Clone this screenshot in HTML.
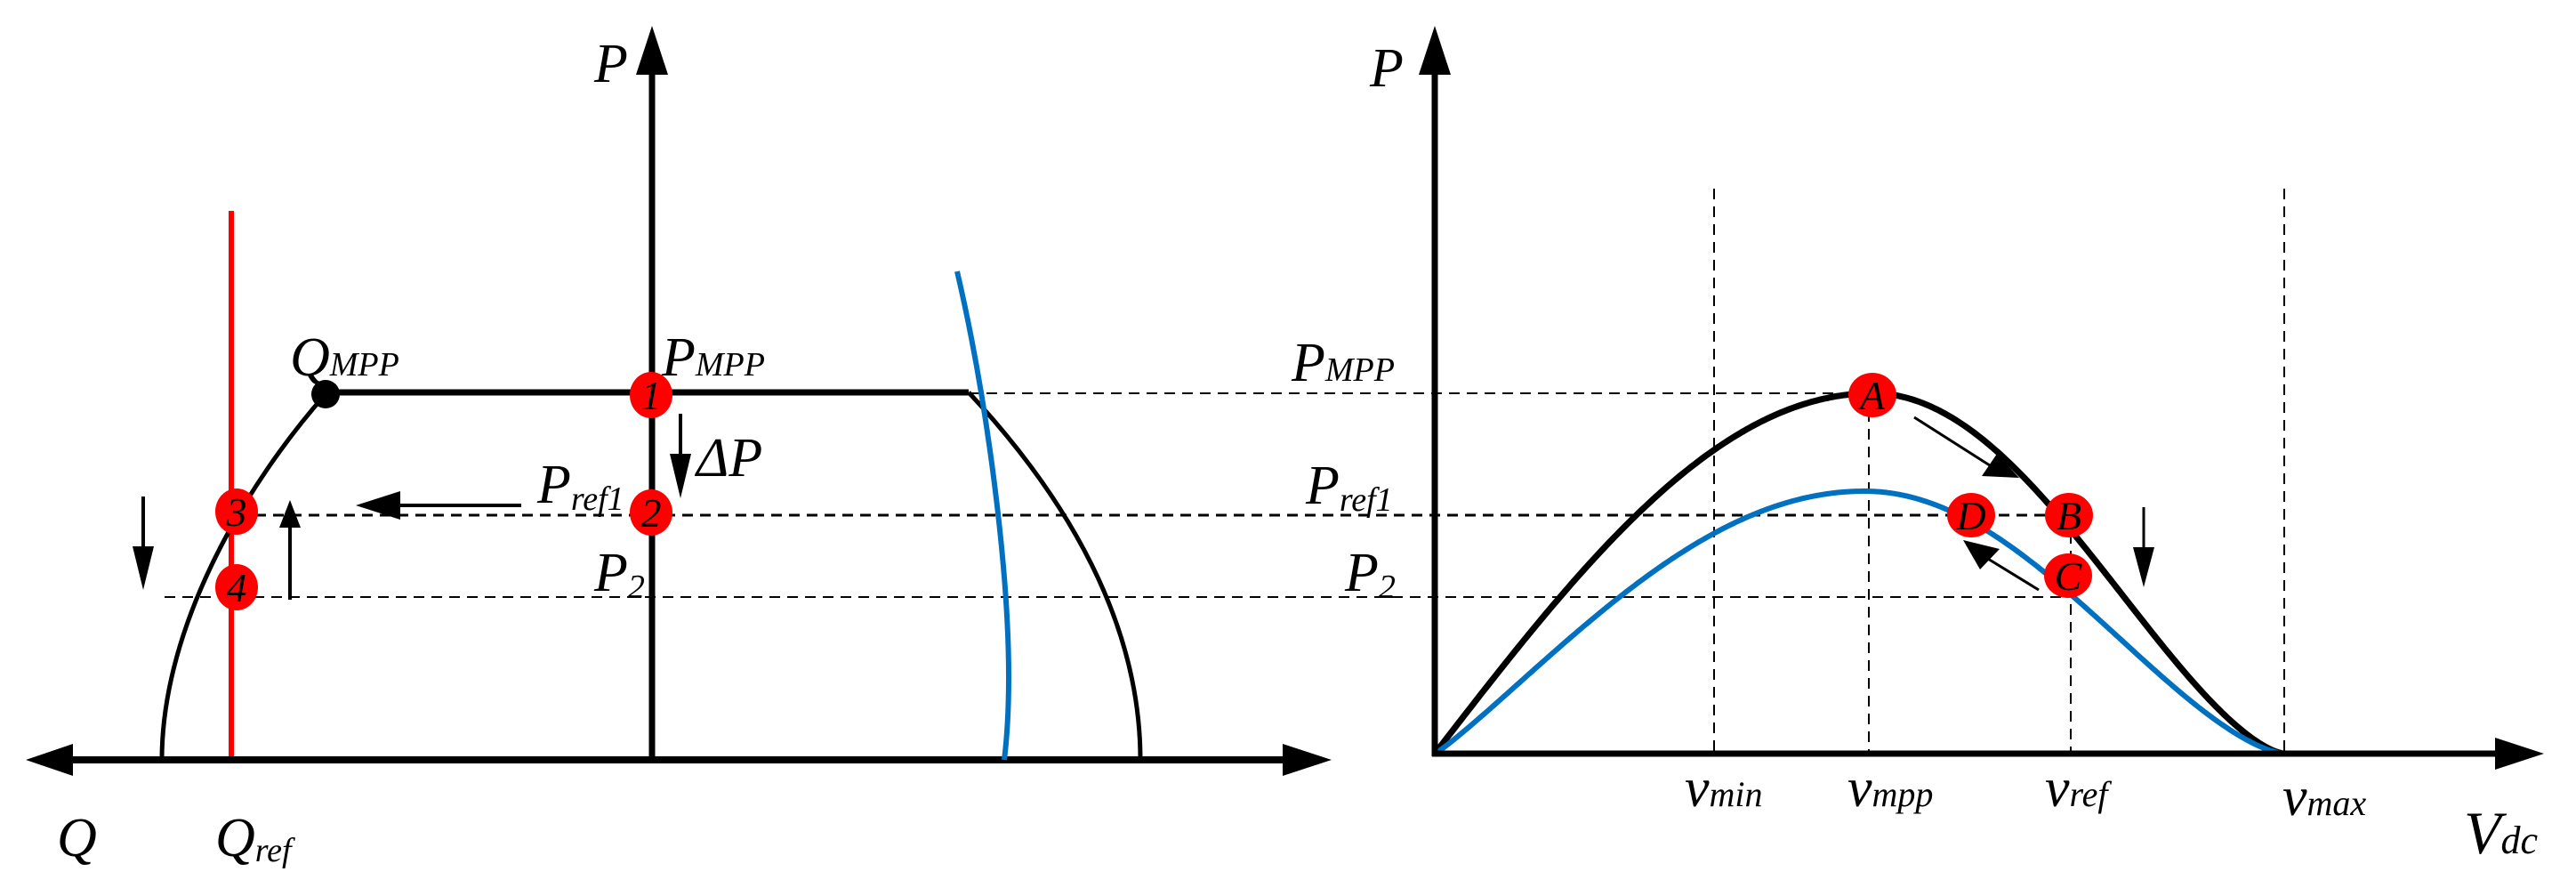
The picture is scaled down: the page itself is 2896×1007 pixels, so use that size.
<!DOCTYPE html>
<html><head><meta charset="utf-8"><style>
html,body{margin:0;padding:0;background:#fff;}
svg{display:block;}
</style></head><body>
<svg id="s" width="2896" height="1007" viewBox="0 0 2896 1007" xmlns="http://www.w3.org/2000/svg" font-family="'Liberation Serif', serif" font-style="italic">
<g stroke="#000" stroke-width="2" stroke-dasharray="12,8" fill="none">
<line x1="1089" y1="442" x2="2105" y2="442"/>
<line x1="287" y1="579" x2="2326" y2="579" stroke-width="3"/>
<line x1="185" y1="671" x2="2325" y2="671"/>
<line x1="1927" y1="212" x2="1927" y2="847"/>
<line x1="2568" y1="212" x2="2568" y2="847"/>
<line x1="2101" y1="442" x2="2101" y2="847"/>
<line x1="2328" y1="579" x2="2328" y2="847"/>
</g>
<line x1="260" y1="237" x2="260" y2="854" stroke="#f00" stroke-width="6"/>
<line x1="733" y1="80" x2="733" y2="854" stroke="#000" stroke-width="7"/>
<polygon points="733,29 715,84 751,84" fill="#000"/>
<line x1="78" y1="854" x2="1446" y2="854" stroke="#000" stroke-width="8"/>
<polygon points="29,854 82,836 82,872" fill="#000"/>
<polygon points="1497,854 1442,836 1442,872" fill="#000"/>
<line x1="366" y1="441" x2="1089" y2="441" stroke="#000" stroke-width="7"/>
<path d="M366,443 C280,540 182,700 182,854" stroke="#000" stroke-width="5" fill="none"/>
<path d="M1089,441 C1200,560 1282,700 1282,854" stroke="#000" stroke-width="5" fill="none"/>
<path d="M1076,305 C1110,450 1134,640 1134,760 C1134,800 1132,830 1129,854" stroke="#0070c0" stroke-width="6" fill="none"/>
<circle cx="366" cy="443" r="16" fill="#000"/>
<g stroke="#000" stroke-width="4">
<line x1="586" y1="568" x2="440" y2="568"/>
<line x1="765" y1="465" x2="765" y2="520"/>
<line x1="161" y1="558" x2="161" y2="620"/>
<line x1="326" y1="674" x2="326" y2="585"/>
</g>
<polygon points="400,568 450,552 450,584" fill="#000"/>
<polygon points="765,560 753,510 777,510" fill="#000"/>
<polygon points="161,663 149,614 173,614" fill="#000"/>
<polygon points="326,562 314,593 338,593" fill="#000"/>
<g fill="#f00">
<ellipse cx="732" cy="444" rx="24" ry="26"/>
<ellipse cx="732" cy="576" rx="24" ry="26"/>
<ellipse cx="266" cy="575" rx="24" ry="26"/>
<ellipse cx="266" cy="660" rx="24" ry="26"/>
</g>
<g font-size="46" text-anchor="middle">
<text x="732" y="460">1</text><text x="732" y="592">2</text>
<text x="266" y="591">3</text><text x="266" y="676">4</text>
</g>
<g font-size="62">
<text x="668" y="92">P</text>
<text x="326" y="422">Q<tspan font-size="38">MPP</tspan></text>
<text x="744" y="422">P<tspan font-size="38">MPP</tspan></text>
<text x="783" y="535">ΔP</text>
<text x="604" y="565">P<tspan font-size="38" dy="8">ref1</tspan></text>
<text x="668" y="664">P<tspan font-size="38" dy="8">2</tspan></text>
<text x="64" y="962">Q</text>
<text x="242" y="962">Q<tspan font-size="38" dy="6">ref</tspan></text>
</g>
<path id="blk" stroke="#000" stroke-width="7" fill="none"/>
<path id="blu" stroke="#0070c0" stroke-width="6" fill="none"/>
<line x1="1613" y1="80" x2="1613" y2="850" stroke="#000" stroke-width="7"/>
<polygon points="1613,29 1595,84 1631,84" fill="#000"/>
<line x1="1610" y1="847" x2="2810" y2="847" stroke="#000" stroke-width="7"/>
<polygon points="2860,847 2805,829 2805,865" fill="#000"/>
<g stroke="#000" stroke-width="3">
<line x1="2152" y1="469" x2="2240" y2="525"/>
<line x1="2292" y1="663" x2="2230" y2="625"/>
<line x1="2410" y1="570" x2="2410" y2="625"/>
</g>
<polygon points="2270,537 2228,535 2245,510" fill="#000"/>
<polygon points="2207,607 2248,617 2226,640" fill="#000"/>
<polygon points="2410,660 2398,615 2422,615" fill="#000"/>
<g fill="#f00">
<ellipse cx="2105" cy="444" rx="27" ry="25"/>
<ellipse cx="2326" cy="579" rx="27" ry="25"/>
<ellipse cx="2216" cy="579" rx="27" ry="25"/>
<ellipse cx="2325" cy="647" rx="27" ry="25"/>
</g>
<g font-size="46" text-anchor="middle">
<text x="2105" y="460">A</text><text x="2326" y="595">B</text>
<text x="2216" y="595">D</text><text x="2325" y="663">C</text>
</g>
<g font-size="62">
<text x="1540" y="97">P</text>
<text x="1452" y="428">P<tspan font-size="38">MPP</tspan></text>
<text x="1468" y="566">P<tspan font-size="38" dy="8">ref1</tspan></text>
<text x="1512" y="664">P<tspan font-size="38" dy="8">2</tspan></text>
<text x="1894" y="906">v<tspan font-size="40">min</tspan></text>
<text x="2077" y="906">v<tspan font-size="40">mpp</tspan></text>
<text x="2299" y="906">v<tspan font-size="40">ref</tspan></text>
<text x="2566" y="916">v<tspan font-size="40">max</tspan></text>
<text x="2770" y="959" font-size="68">V<tspan font-size="44">dc</tspan></text>
</g>
<script>
function curve(x0,xp,x1,yb,h,pl,pr){
 var d="M"+x0+","+yb;
 for(var x=x0;x<=x1;x+=3){
  var t,p;
  if(x<=xp){t=(x-x0)/(xp-x0);p=pl;}else{t=(x1-x)/(x1-xp);p=pr;}
  var y=yb-h*Math.pow(Math.sin(Math.PI/2*t),p);
  d+=" L"+x+","+y.toFixed(1);
 }
 d+=" L"+x1+","+yb;
 return d;
}
document.getElementById("blk").setAttribute("d",curve(1613,2105,2568,847,405,1,1.5));
document.getElementById("blu").setAttribute("d",curve(1613,2096,2568,847,295,1.1,1.5));
</script>
</svg>
</body></html>
